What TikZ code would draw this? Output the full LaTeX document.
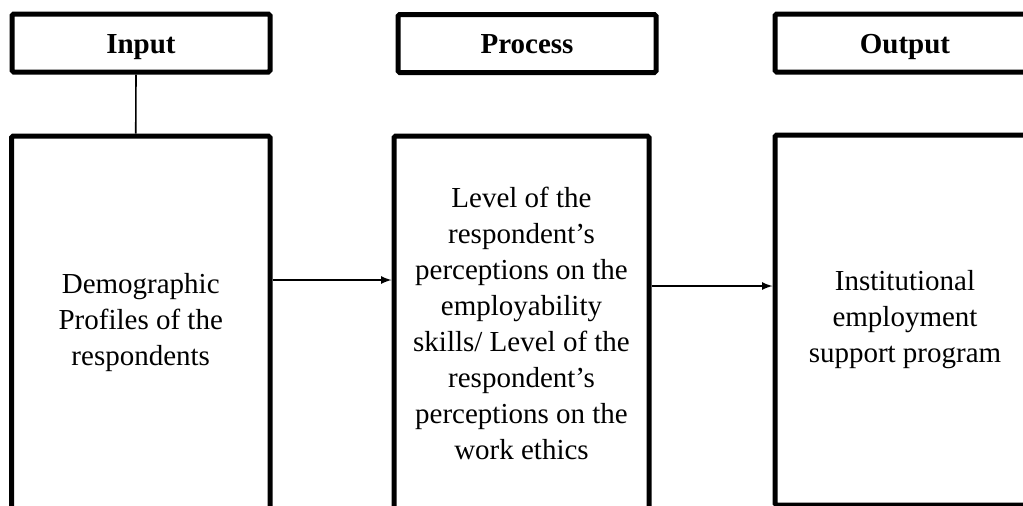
\documentclass[tikz,border=0pt]{standalone}
\usepackage{fontspec}
\setmainfont{Liberation Serif}
\usepackage{tikz}
\usetikzlibrary{arrows,positioning}

\tikzset{
	head/.style={draw, line width=2.5pt, rounded corners=0.8pt, minimum height=29pt, text height=11.5pt, text depth=1.5pt, font=\fontsize{14.5}{18}\selectfont\bfseries},
	bigbox/.style={draw, line width=2.5pt, rounded corners=0.8pt, align=center, font=\fontsize{14.5}{18}\selectfont},
	link/.style={line width=0.8pt},
}

\begin{document}
\begin{tikzpicture}[x=0.5pt, y=-0.5pt]
	\useasboundingbox (0,0) rectangle (1023,505);
	\clip (0,0) rectangle (1023,505);
	\node[head, minimum width=129pt] (inHead) at (141,43) {Input};
	\node[head, minimum width=129pt] (procHead) at (527,43.5) {Process};
	\node[head, minimum width=130pt] (outHead) at (905,43) {Output};
	\node[bigbox, minimum width=129.25pt, minimum height=187pt] (inBox) at (140.75,323) {Demographic\\Profiles of the\\respondents};
	\node[bigbox, minimum width=127.5pt, minimum height=187pt] (procBox) at (521.5,323) {Level of the\\respondent's\\perceptions on the\\employability\\skills/ Level of the\\respondent's\\perceptions on the\\work ethics};
	\node[bigbox, minimum width=130pt, minimum height=185pt] (outBox) at (905,320) {Institutional\\employment\\support program};
	\draw[link] ([xshift=-2.5pt]inHead.south) -- ([xshift=-2.5pt]inBox.north);
	\draw[link, -latex] ([yshift=21.5pt]inBox.east) -- ([yshift=21.5pt]procBox.west);
	\draw[link, -latex] ([yshift=18.5pt]procBox.east) -- ([yshift=17pt]outBox.west);
\end{tikzpicture}
\end{document}
